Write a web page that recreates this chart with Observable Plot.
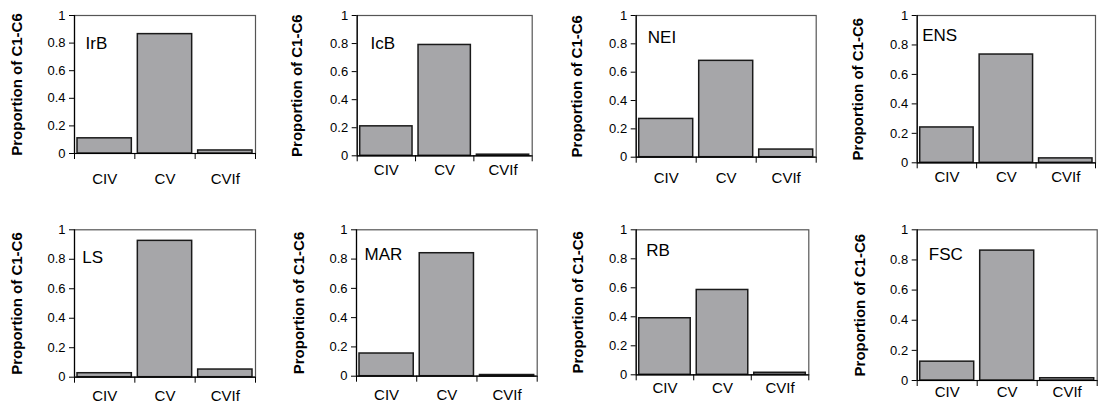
<!DOCTYPE html>
<html>
<head>
<meta charset="utf-8">
<script src="https://cdn.jsdelivr.net/npm/d3@7"></script>
<script src="https://cdn.jsdelivr.net/npm/@observablehq/plot@0.6"></script>
<style>
  html, body { margin: 0; padding: 0; background: #fff; }
  #wrap { position: relative; width: 1099px; height: 409px; overflow: hidden; font-family: "Liberation Sans", Arial, sans-serif; }
  #wrap svg { position: absolute; }
</style>
</head>
<body>
<div id="wrap"></div>
<script>
// ---- data ----
const stations = ["IrB", "IcB", "NEI", "ENS", "LS", "MAR", "RB", "FSC"];
const stages = ["CIV", "CV", "CVIf"];
const civ  = [0.11, 0.21, 0.27, 0.24, 0.027, 0.155, 0.39, 0.125];
const cv   = [0.865, 0.79, 0.68, 0.735, 0.925, 0.84, 0.585, 0.862];
const cvif = [0.022, 0.008, 0.054, 0.03, 0.052, 0.008, 0.014, 0.015];
const yTicks = [0, 0.2, 0.4, 0.6, 0.8, 1];
const yTitle = "Proportion of C1-C6";

// ---- layout (cell + plot frame in page px) ----
const cells = [
  {cx: 0,   cy: 0,   w: 280, h: 200, L: 74,    R: 255,    T: 15,    B: 153,   yl: 17,    xl: 183,   px: 85,    py: 42.7},
  {cx: 280, cy: 0,   w: 270, h: 200, L: 356.7, R: 531.7,  T: 15,    B: 155.3, yl: 296.7, xl: 174,   px: 370,   py: 42.7},
  {cx: 550, cy: 0,   w: 270, h: 200, L: 635.7, R: 815.7,  T: 15,    B: 156.7, yl: 576.7, xl: 182.7, px: 647.3, py: 36.7},
  {cx: 820, cy: 0,   w: 279, h: 200, L: 916.7, R: 1095,   T: 15,    B: 162.3, yl: 858,   xl: 181.7, px: 921.7, py: 35},
  {cx: 0,   cy: 200, w: 280, h: 209, L: 74,    R: 255,    T: 229.3, B: 376.7, yl: 16.7,  xl: 400,   px: 81.7,  py: 257.3},
  {cx: 280, cy: 200, w: 270, h: 209, L: 356,   R: 536.7,  T: 229.3, B: 375.7, yl: 299,   xl: 399,   px: 364,   py: 254},
  {cx: 550, cy: 200, w: 270, h: 209, L: 635.7, R: 808.3,  T: 229.3, B: 374.3, yl: 578,   xl: 392,   px: 645.7, py: 250},
  {cx: 820, cy: 200, w: 279, h: 209, L: 916.7, R: 1096.7, T: 229.3, B: 380,   yl: 860,   xl: 396.7, px: 928.3, py: 254}
];

const wrap = document.getElementById("wrap");

stations.forEach((st, k) => {
  const c = cells[k];
  const data = stages.map((s, i) => ({stage: s, i, v: [civ, cv, cvif][i][k]}));
  const mL = c.L - c.cx, mR = c.cx + c.w - c.R, mT = c.T - c.cy, mB = c.cy + c.h - c.B;
  const chart = Plot.plot({
    width: c.w,
    height: c.h,
    marginLeft: mL,
    marginRight: mR,
    marginTop: mT,
    marginBottom: mB,
    style: {fontFamily: "'Liberation Sans', Arial, sans-serif", fontSize: "12px", color: "#000", background: "transparent", overflow: "visible"},
    x: {type: "linear", domain: [0, 3]},
    y: {domain: [0, 1]},
    marks: [
      Plot.frame({stroke: "#555", strokeWidth: 1.2}),
      Plot.rectY(data, {x1: d => d.i, x2: d => d.i + 1, y: "v", insetLeft: 3, insetRight: 3,
        fill: "#a6a6a9", stroke: "#1a1a1a", strokeWidth: 1.5}),
      Plot.ruleX([0], {stroke: "#000", strokeWidth: 1.2}),
      Plot.ruleY([0], {stroke: "#000", strokeWidth: 1.2}),
      Plot.axisY({ticks: yTicks, tickFormat: () => "", tickSize: 5, label: null, stroke: "#000"}),
      Plot.text(yTicks, {y: d => d, text: d => String(d), frameAnchor: "left", textAnchor: "end",
        dx: -9, fontSize: 13, fill: "#000"}),
      Plot.axisX({ticks: [0, 1, 2, 3], tickFormat: () => "", tickSize: 6, label: null, stroke: "#000"}),
      Plot.text(data, {x: d => d.i + 0.5, text: "stage", frameAnchor: "bottom",
        dy: c.xl - c.B, fontSize: 15, fill: "#000"}),
      Plot.text([yTitle], {frameAnchor: "left", dx: -(c.L - c.yl), rotate: -90,
        textAnchor: "middle", lineAnchor: "middle",
        fontSize: 15, fontWeight: "bold", fill: "#000"}),
      Plot.text([st], {frameAnchor: "top-left", dx: c.px - c.L, dy: c.py - c.T, textAnchor: "start",
        lineAnchor: "middle", fontSize: 17, fill: "#000"})
    ]
  });
  chart.style.left = c.cx + "px";
  chart.style.top = c.cy + "px";
  wrap.appendChild(chart);
});
</script>
</body>
</html>
